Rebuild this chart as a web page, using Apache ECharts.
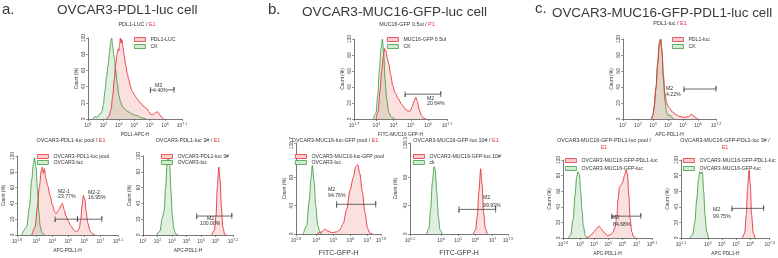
<!DOCTYPE html>
<html><head><meta charset="utf-8">
<script src="https://cdn.jsdelivr.net/npm/echarts@6/dist/echarts.min.js"></script>
<style>html,body{margin:0;padding:0;background:#fff}#c{width:778px;height:258px}</style>
</head><body><div id="c"></div>
<script>
// ---------- DATA (x = log10 fluorescence, y = count %) ----------
// a. top
const aTopXTicks = [1, 2, 3, 4, 5, 6, 7.1];
const aTopCK = [[1.3,0],[1.45,3],[1.6,2],[1.75,6],[1.9,9],[2.0,18],[2.1,35],[2.2,52],[2.3,66],[2.4,82],[2.47,95],[2.54,100],[2.6,90],[2.7,76],[2.8,60],[2.9,44],[3.0,30],[3.1,22],[3.25,15],[3.4,12],[3.6,9],[3.8,7],[4.0,5],[4.2,4],[4.4,2],[4.6,1],[4.8,0]];
const aTopPDL1 = [[2.2,0],[2.35,3],[2.5,12],[2.6,28],[2.7,48],[2.8,68],[2.88,80],[2.95,86],[3.0,84],[3.05,92],[3.1,100],[3.15,94],[3.2,98],[3.27,88],[3.35,78],[3.45,66],[3.55,56],[3.65,48],[3.75,41],[3.85,35],[4.0,30],[4.15,26],[4.3,22],[4.5,18],[4.65,15],[4.8,13],[4.95,9],[5.05,6],[5.15,5],[5.25,6],[5.38,8],[5.5,9],[5.6,7],[5.7,4],[5.8,2],[5.9,0]];
const aTopGate = [5.05, 6.58, 36];
// a. bottom left
const aPoolXTicks = [1.8, 3, 4, 5, 6, 7, 8.1];
const aPoolLuc = [[2.09,0],[2.4,10],[2.57,35],[2.72,70],[2.82,90],[2.9,98],[2.99,85],[3.07,60],[3.16,30],[3.24,12],[3.36,3],[3.49,0]];
const aPoolPDL1 = [[2.72,0],[2.93,10],[3.07,35],[3.19,60],[3.32,82],[3.38,86],[3.44,78],[3.51,84],[3.59,72],[3.72,62],[3.86,50],[4.01,38],[4.13,30],[4.24,27],[4.34,30],[4.44,33],[4.55,38],[4.63,40],[4.74,32],[4.86,24],[5.01,17],[5.18,11],[5.36,6],[5.53,4],[5.68,8],[5.78,20],[5.86,38],[5.94,50],[6.03,45],[6.11,30],[6.22,15],[6.36,5],[6.53,1],[6.68,0]];
const aPoolGate = [4.18, 7.09, 20, 5.57];
// a. bottom right
const a3XTicks = [1, 2, 3, 4, 5, 6, 7.2];
const a3Luc = [[1.94,0],[2.17,5],[2.33,22],[2.45,30],[2.56,60],[2.66,90],[2.75,100],[2.84,88],[2.93,55],[3.02,25],[3.12,8],[3.25,1],[3.43,0]];
const a3PDL1 = [[5.74,0],[5.92,6],[6.03,25],[6.12,60],[6.22,86],[6.31,70],[6.4,35],[6.5,10],[6.63,1],[6.77,0]];
const a3Gate = [4.7, 7.12, 24];
// b. top
const bTopXTicks = [1.7, 3, 4, 5, 6, 7.1];
const bTopCK = [[2.82,0],[2.98,8],[3.08,30],[3.17,60],[3.27,88],[3.35,100],[3.43,80],[3.5,50],[3.6,25],[3.72,8],[3.89,2],[4.08,0]];
const bTopMUC = [[2.98,0],[3.11,10],[3.21,35],[3.31,60],[3.4,78],[3.48,88],[3.56,85],[3.64,75],[3.73,68],[3.83,55],[3.95,42],[4.08,33],[4.28,25],[4.47,18],[4.67,13],[4.82,10],[4.96,10],[5.07,15],[5.19,22],[5.29,27],[5.38,22],[5.48,12],[5.6,5],[5.73,1],[5.89,0]];
const bTopGate = [4.67, 6.74, 31];
// b. bottom left
const bPoolXTicks = [2.8, 4, 5, 6, 7, 7.8];
const bPoolYTicks = [0, 40, 80, 128.7];
const bPoolLuc = [[3.23,0],[3.43,12],[3.57,45],[3.69,80],[3.76,97],[3.86,75],[3.96,40],[4.08,12],[4.21,2],[4.35,0]];
const bPoolGFP = [[4.02,0],[4.31,3],[4.5,7],[4.66,4],[4.9,2],[5.19,3],[5.38,6],[5.58,15],[5.78,35],[5.98,62],[6.17,80],[6.31,95],[6.43,98],[6.56,85],[6.7,60],[6.86,30],[7.01,8],[7.15,1],[7.29,0]];
const bPoolGate = [5.19, 7.49, 42];
// b. bottom right
const b10XTicks = [2.2, 4, 5, 6, 7, 7.9];
const b10YTicks = [0, 40, 80, 128.3];
const b10ck = [[3.17,0],[3.3,8],[3.4,35],[3.5,72],[3.6,95],[3.67,90],[3.75,60],[3.85,25],[3.94,6],[4.08,0]];
const b10GFP = [[5.88,0],[6.02,6],[6.11,25],[6.21,60],[6.31,92],[6.39,70],[6.48,30],[6.58,8],[6.69,0]];
const b10Gate = [5.05, 7.18, 34.7];
// c. top
const cTopXTicks = [1, 2, 3, 4, 5, 6, 7.2];
const cTopCK = [[2.9,0],[3.0,5],[3.07,14],[3.2,38],[3.31,68],[3.42,94],[3.51,100],[3.6,84],[3.69,50],[3.8,22],[3.91,8],[4.02,4],[4.13,5],[4.24,2],[4.4,0]];
const cTopPDL1 = [[2.9,0],[3.0,5],[3.07,15],[3.2,40],[3.31,70],[3.42,95],[3.51,100],[3.6,85],[3.69,55],[3.8,32],[3.91,20],[4.02,16],[4.13,13],[4.24,10],[4.35,8],[4.58,5],[4.8,3],[5.13,2],[5.36,3],[5.58,6],[5.69,4],[5.87,1],[6.02,0]];
const cTopGate = [5.07, 7.2, 37.5];
// c. bottom left
const cPoolXTicks = [1.8, 3, 4, 5, 6, 7, 8.1];
const cPoolLuc = [[2.18,0],[2.34,4],[2.53,25],[2.65,55],[2.77,78],[2.86,85],[2.96,82],[3.05,60],[3.15,35],[3.24,15],[3.38,3],[3.52,0]];
const cPoolPDL1 = [[3.48,0],[3.67,2],[3.84,5],[4.0,8],[4.14,11],[4.26,14],[4.38,15],[4.5,12],[4.61,9],[4.78,6],[4.94,3],[5.13,4],[5.32,7],[5.49,14],[5.61,28],[5.7,50],[5.8,65],[5.91,68],[6.03,72],[6.15,80],[6.27,87],[6.36,82],[6.46,55],[6.55,25],[6.67,8],[6.79,2],[6.93,0]];
const cPoolGate = [5.25, 7.31, 28];
// c. bottom right
const c3XTicks = [1.1, 3, 4, 5, 6, 7.4];
const c3Luc = [[1.73,0],[1.92,4],[2.08,20],[2.22,50],[2.34,75],[2.43,85],[2.52,82],[2.62,85],[2.71,60],[2.8,30],[2.92,8],[3.06,0]];
const c3PDL1 = [[5.46,0],[5.62,6],[5.74,30],[5.83,65],[5.93,87],[6.02,70],[6.11,30],[6.23,6],[6.37,0]];
const c3Gate = [4.72, 6.97, 38];
const countTicks = [0, 20, 40, 60, 80, 100];

// ---------- LAYOUT ----------
const F = 'Liberation Sans';
const RED = '#e5323b', GREEN = '#3d9a3d';
const panels = [
  {g:{left:88,top:38,width:94,height:81}, x:[1,7.1], xt:aTopXTicks, yMax:100, yt:countTicks, xName:'PDL1-APC-H', yGap:9,
   red:aTopPDL1, green:aTopCK, rn:'PDL1-LUC', gn:'CK', gate:aTopGate, leg:[134,37], legGap:2,
   sub:{x:137,y:25,t:'PDL1-LUC',tag:'E1'}, labels:[['M3',155,85.5],['4.40%',153,90.6,true]]},
  {g:{left:17,top:156,width:101,height:79}, x:[1.8,8.1], xt:aPoolXTicks, yMax:100, yt:countTicks, xName:'APC-PDL1-H', yGap:11,
   red:aPoolPDL1, green:aPoolLuc, rn:'OVCAR3-PDL1-luc pool', gn:'OVCAR3-luc', gate:aPoolGate, leg:[37,154], legGap:1,
   sub:{x:71,y:141,t:'OVCAR3-PDL1-luc pool',tag:'E1'}, labels:[['M2-1',58,191.5],['23.77%',58,196.5],['M2-2',88,192.5],['16.95%',88,197.5]]},
  {g:{left:143,top:156,width:90,height:79}, x:[1,7.2], xt:a3XTicks, yMax:100, yt:countTicks, xName:'APC-PDL1-H', yGap:11,
   red:a3PDL1, green:a3Luc, rn:'OVCAR3-PDL1-luc 3#', gn:'OVCAR3-luc', gate:a3Gate, leg:[161,154], legGap:1,
   sub:{x:188,y:141,t:'OVCAR3-PDL1-luc 3#',tag:'E1'}, labels:[['M2',207,219],['100.00%',200,223.5]]},
  {g:{left:354,top:39,width:93,height:80}, x:[1.7,7.1], xt:bTopXTicks, yMax:100, yt:countTicks, xName:'FITC-MUC16 GFP-H', yGap:9,
   red:bTopMUC, green:bTopCK, rn:'MUC16-GFP 0.5ul', gn:'CK', gate:bTopGate, leg:[387,37], legGap:2,
   sub:{x:407,y:25,t:'MUC16-GFP 0.5ul',tag:'P1'}, labels:[['M2',427,98.5],['20.64%',427,104]]},
  {g:{left:296,top:143,width:85,height:94}, x:[2.8,7.8], xt:bPoolXTicks, yMax:128.7, yt:bPoolYTicks, xName:'FITC-GFP-H', xNameSize:7, xGap:16, yGap:9,
   red:bPoolGFP, green:bPoolLuc, rn:'OVCAR3-MUC16-luc-GFP pool', gn:'OVCAR3-luc', gate:bPoolGate, leg:[295,154], legGap:1,
   sub:{x:335,y:141,t:'OVCAR3-MUC16-luc-GFP pool',tag:'E1'}, labels:[['M2',328,190],['94.76%',328,196]]},
  {g:{left:410,top:143,width:98,height:94}, x:[2.2,7.9], xt:b10XTicks, yMax:128.3, yt:b10YTicks, xName:'FITC-GFP-H', xNameSize:7, xGap:16, yGap:12,
   red:b10GFP, green:b10ck, rn:'OVCAR3-MUC16-GFP-luc 10#', gn:'ck', gate:b10Gate, leg:[413,154], legGap:1,
   sub:{x:456,y:141,t:'OVCAR3-MUC16-GFP-luc 10#',tag:'E1'}, labels:[['M2',483,198],['99.93%',483,205.5]]},
  {g:{left:623,top:39,width:93,height:80}, x:[1,7.2], xt:cTopXTicks, yMax:100, yt:countTicks, xName:'APC-PDL1-H', yGap:9,
   red:cTopPDL1, green:cTopCK, rn:'PDL1-luc', gn:'CK', gate:cTopGate, leg:[672,37], legGap:2,
   sub:{x:670,y:24,t:'PDL1-luc',tag:'E1'}, labels:[['M2',666,89],['4.22%',666,95]]},
  {g:{left:563,top:160,width:89,height:78}, x:[1.8,8.1], xt:cPoolXTicks, yMax:100, yt:countTicks, xName:'APC-PDL1-H', yGap:11,
   red:cPoolPDL1, green:cPoolLuc, rn:'OVCAR3-MUC16-GFP-PDL1-luc', gn:'OVCAR3-MUC16-GFP-luc', gate:cPoolGate, leg:[565,158], legGap:3,
   sub:{x:604,y:144,t:'OVCAR3-MUC16-GFP-PDL1-luc pool /',tag:'E1',two:true}, labels:[['M3',612,218],['84.68%',613,224.5]]},
  {g:{left:681,top:160,width:90,height:78}, x:[1.1,7.4], xt:c3XTicks, yMax:100, yt:countTicks, xName:'APC PDL1-H', yGap:11,
   red:c3PDL1, green:c3Luc, rn:'OVCAR3-MUC16-GFP-PDL1-luc', gn:'OVCAR3-MUC16-GFP-luc', gate:c3Gate, leg:[683,158], legGap:3,
   sub:{x:725,y:144,t:'OVCAR3-MUC16-GFP-PDL1-luc 3# /',tag:'E1',two:true}, labels:[['M2',713,210],['99.75%',713,216.5]]}
];

function sup(v){ return '10{s|' + (Number.isInteger(v) ? v : v.toFixed(1)) + '}'; }
function bracket(gate, h){
  const [x1, x2, y, xm] = gate;
  const d = [[x1,y+h],[x1,y-h],[x1,y]];
  if (xm !== undefined) d.push([xm,y],[xm,y+h],[xm,y-h],[xm,y]);
  d.push([x2,y],[x2,y+h],[x2,y-h]);
  return d;
}

const grid=[], xAxis=[], yAxis=[], series=[], legend=[], graphic=[];
panels.forEach((p,i)=>{
  grid.push(Object.assign({containLabel:false}, p.g));
  xAxis.push({type:'value', gridIndex:i, min:p.x[0], max:p.x[1], name:p.xName, nameLocation:'middle', nameGap:p.xGap||13,
    nameTextStyle:{fontSize:p.xNameSize||4.8, color:'#333', fontFamily:F},
    axisLine:{lineStyle:{color:'#555',width:0.8}},
    axisTick:{show:true, length:2, customValues:p.xt, lineStyle:{color:'#555',width:0.6}},
    axisLabel:{customValues:p.xt, formatter:sup, margin:3, color:'#444', fontFamily:F, fontSize:5,
      rich:{s:{fontSize:3.6, fontFamily:F, padding:[0,0,3,0]}}},
    splitLine:{show:false}});
  yAxis.push({type:'value', gridIndex:i, min:0, max:p.yMax, name:'Count (%)', nameLocation:'middle', nameGap:p.yGap, nameRotate:90,
    nameTextStyle:{fontSize:4.8, color:'#333', fontFamily:F},
    axisLine:{show:true, lineStyle:{color:'#555',width:0.8}},
    axisTick:{show:true, length:2, customValues:p.yt, lineStyle:{color:'#555',width:0.6}},
    axisLabel:{customValues:p.yt, rotate:90, margin:2, color:'#444', fontFamily:F, fontSize:4.8},
    splitLine:{show:false}});
  const common = {type:'line', xAxisIndex:i, yAxisIndex:i, smooth:0.3, smoothMonotone:'x', symbol:'none', silent:true, animation:false};
  series.push(Object.assign({}, common, {name:p.gn, data:p.green, lineStyle:{color:GREEN,width:1,opacity:0.85}, itemStyle:{color:GREEN},
    areaStyle:{color:'rgba(110,185,110,0.30)'}}));
  series.push(Object.assign({}, common, {name:p.rn, data:p.red, lineStyle:{color:RED,width:1,opacity:0.9}, itemStyle:{color:RED},
    areaStyle:{color:'rgba(235,110,110,0.30)'}}));
  series.push({type:'line', name:'gate'+i, xAxisIndex:i, yAxisIndex:i, data:bracket(p.gate, p.yMax*0.035), symbol:'none', silent:true, animation:false,
    lineStyle:{color:'#444',width:0.8}, z:5});
  legend.push({left:p.leg[0], top:p.leg[1], orient:'vertical', itemWidth:11, itemHeight:4, itemGap:p.legGap, padding:0, selectedMode:false,
    textStyle:{fontSize:5.2, fontFamily:F, color:'#333'},
    data:[{name:p.rn, icon:'rect', itemStyle:{color:'#f8d0d0', borderColor:RED, borderWidth:0.8}},
          {name:p.gn, icon:'rect', itemStyle:{color:'#d3ebd3', borderColor:GREEN, borderWidth:0.8}}]});
  const s = p.sub;
  graphic.push({type:'text', x:s.x, y:s.y, z:100, style:{
    text: s.two ? '{k|'+s.t+'}\n{r|'+s.tag+'}' : '{k|'+s.t+' / }{r|'+s.tag+'}',
    textAlign:'center', textVerticalAlign:'middle', align:'center', verticalAlign:'middle',
    rich:{k:{fill:'#333', fontSize:5.4, fontFamily:F, lineHeight:7}, r:{fill:RED, fontSize:5.4, fontFamily:F, lineHeight:7}}}});
  p.labels.forEach(l=>{
    graphic.push({type:'text', x:l[1], y:l[2], z:100, style:{text:l[0], fill:'#333', font:'5.2px '+F,
      textAlign:'left', textVerticalAlign:'middle', align:'left', verticalAlign:'middle',
      backgroundColor: l[3] ? '#fff' : 'transparent'}});
  });
});

const heads = [['a.',2,10,15],['OVCAR3-PDL1-luc cell',57,10,13.6],['b.',268,10,15],['OVCAR3-MUC16-GFP-luc cell',302,12,13.6],
               ['c.',535,9,15],['OVCAR3-MUC16-GFP-PDL1-luc cell',552,13,13.4]];
heads.forEach(h=>graphic.push({type:'text', x:h[1], y:h[2], z:100, style:{text:h[0], fill:'#3a3a3a', font:h[3]+'px '+F,
  textAlign:'left', textVerticalAlign:'middle', align:'left', verticalAlign:'middle'}}));

const chart = echarts.init(document.getElementById('c'));
chart.setOption({animation:false, backgroundColor:'#fff', grid, xAxis, yAxis, series, legend, graphic});
</script></body></html>
